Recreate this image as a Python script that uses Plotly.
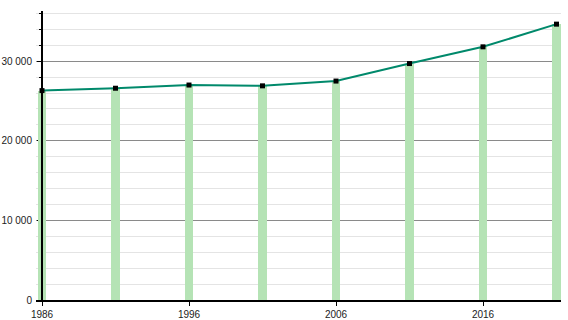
import plotly.graph_objects as go

years = [1986, 1991, 1996, 2001, 2006, 2011, 2016, 2021]
population = [26300, 26600, 27000, 26900, 27500, 29700, 31800, 34650]
x_tick_years = [1986, 1996, 2006, 2016]
y_major_ticks = [0, 10000, 20000, 30000]

Y_RANGE = [0, 36300]
Y_POS = 6 / 525

fig = go.Figure()
fig.add_trace(go.Bar(
    x=years, y=population, width=0.55,
    marker=dict(color="#b5e3b5", line=dict(width=0)),
    hoverinfo="skip", showlegend=False,
))
fig.add_trace(go.Scatter(
    x=years, y=population, mode="lines+markers",
    line=dict(color="#00896b", width=2),
    marker=dict(symbol="square", size=5, color="black"),
    showlegend=False, cliponaxis=False,
))
# invisible trace so the overlay axis (drawn above the bars) renders
fig.add_trace(go.Scatter(
    x=[years[0]], y=[population[0]], yaxis="y2", mode="markers",
    marker=dict(opacity=0), hoverinfo="skip", showlegend=False,
))

fig.update_layout(
    width=568, height=320,
    margin=dict(l=36, r=7, t=11, b=20),
    paper_bgcolor="white", plot_bgcolor="white",
    separators=". ",
    font=dict(family="Liberation Sans, Arial, sans-serif", size=10, color="#222"),
    bargap=0,
    xaxis=dict(
        range=[1985.592, 2021.306],
        tickvals=x_tick_years,
        ticks="outside", ticklen=4, tickcolor="black",
        showline=True, linecolor="black", linewidth=1.5,
        showgrid=False, zeroline=False, automargin=False,
    ),
    yaxis=dict(
        range=Y_RANGE,
        tickvals=y_major_ticks,
        tickformat=",d",
        anchor="free", position=Y_POS,
        layer="below traces",
        ticks="outside", ticklen=5, tickcolor="black",
        ticklabelstandoff=3,
        showline=False,
        showgrid=True, gridcolor="#8a8a8a", gridwidth=1,
        zeroline=False, automargin=False,
        minor=dict(dtick=2000, ticks="outside", ticklen=3, tickcolor="black",
                   showgrid=True, gridcolor="#e4e4e4", gridwidth=1),
    ),
    yaxis2=dict(
        range=Y_RANGE, overlaying="y",
        anchor="free", position=Y_POS,
        showline=True, linecolor="black", linewidth=1.5,
        showticklabels=False, ticks="", showgrid=False,
        zeroline=False, automargin=False,
    ),
)

fig.write_html("out.html")
